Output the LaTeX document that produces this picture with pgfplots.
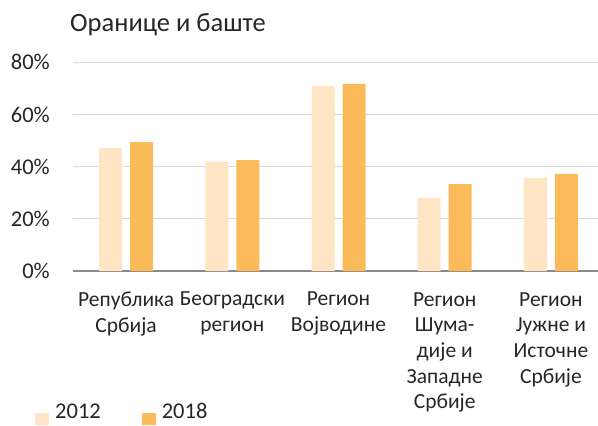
\documentclass[border=0pt]{standalone}
\usepackage{fontspec}
\setmainfont{Carlito}
\usepackage{pgfplots}
\pgfplotsset{compat=1.18}
\definecolor{c2012}{HTML}{FFE5C3}
\definecolor{c2018}{HTML}{FCBB5B}
\definecolor{gridc}{HTML}{D9D9D9}
\definecolor{axc}{HTML}{898989}
\definecolor{txt}{HTML}{262626}
\begin{document}
\begin{tikzpicture}[x=1bp,y=1bp]
\path[use as bounding box, clip] (0,0) rectangle (598,425);
\begin{axis}[
  at={(73bp,154bp)}, anchor=south west,
  scale only axis, width=531bp, height=208.7bp,
  ybar, bar width=23bp, ybar=8bp,
  xmin=-0.5, xmax=4.5, ymin=0, ymax=80,
  xtick={0,1,2,3,4},
  xticklabels={{Република\\Србија},{Београдски\\регион},{Регион\\Војводине},{Регион\\Шума-\\дије и\\Западне\\Србије},{Регион\\Јужне и\\Источне\\Србије}},
  ytick={0,20,40,60,80},
  yticklabel={\pgfmathprintnumber{\tick}\%},
  /pgf/number format/assume math mode=true,
  major tick length=0pt,
  axis line style={draw=none},
  ymajorgrids, grid style={gridc, line width=1.3bp},
  extra y ticks={0}, extra y tick labels={},
  extra y tick style={grid style={axc, line width=1.6bp}},
  yticklabel style={anchor=east, inner sep=0pt, xshift=-23bp, font=\fontsize{22.5bp}{26bp}\selectfont, text=txt},
  xticklabel style={align=center, anchor=north, inner sep=0pt, yshift=-21bp, font=\fontsize{21.5bp}{25.7bp}\selectfont, text=txt},
  legend columns=2,
  legend image code/.code={\fill[#1] (0bp,-6bp) rectangle (14bp,6bp);},
  legend style={at={(0,0)}, anchor=west, xshift=-38bp, yshift=-143bp, draw=none, fill=none, inner sep=0pt,
    font=\fontsize{22.5bp}{26bp}\selectfont, text=txt,
    nodes={inner sep=0pt, anchor=base west},
    /tikz/every odd column/.append style={column sep=6bp},
    /tikz/every even column/.append style={column sep=41bp}},
]
\addplot[fill=c2012, draw=none] coordinates {(0,47.1) (1,41.8) (2,70.9) (3,28.0) (4,35.6)};
\addplot[fill=c2018, draw=none] coordinates {(0,49.4) (1,42.5) (2,71.7) (3,33.3) (4,37.2)};
\legend{2012,2018}
\end{axis}
\node[anchor=base west, inner sep=0pt, font=\fontsize{26.5bp}{30bp}\selectfont, text=txt] at (70bp,393.5bp) {Оранице и баште};
\end{tikzpicture}
\end{document}
